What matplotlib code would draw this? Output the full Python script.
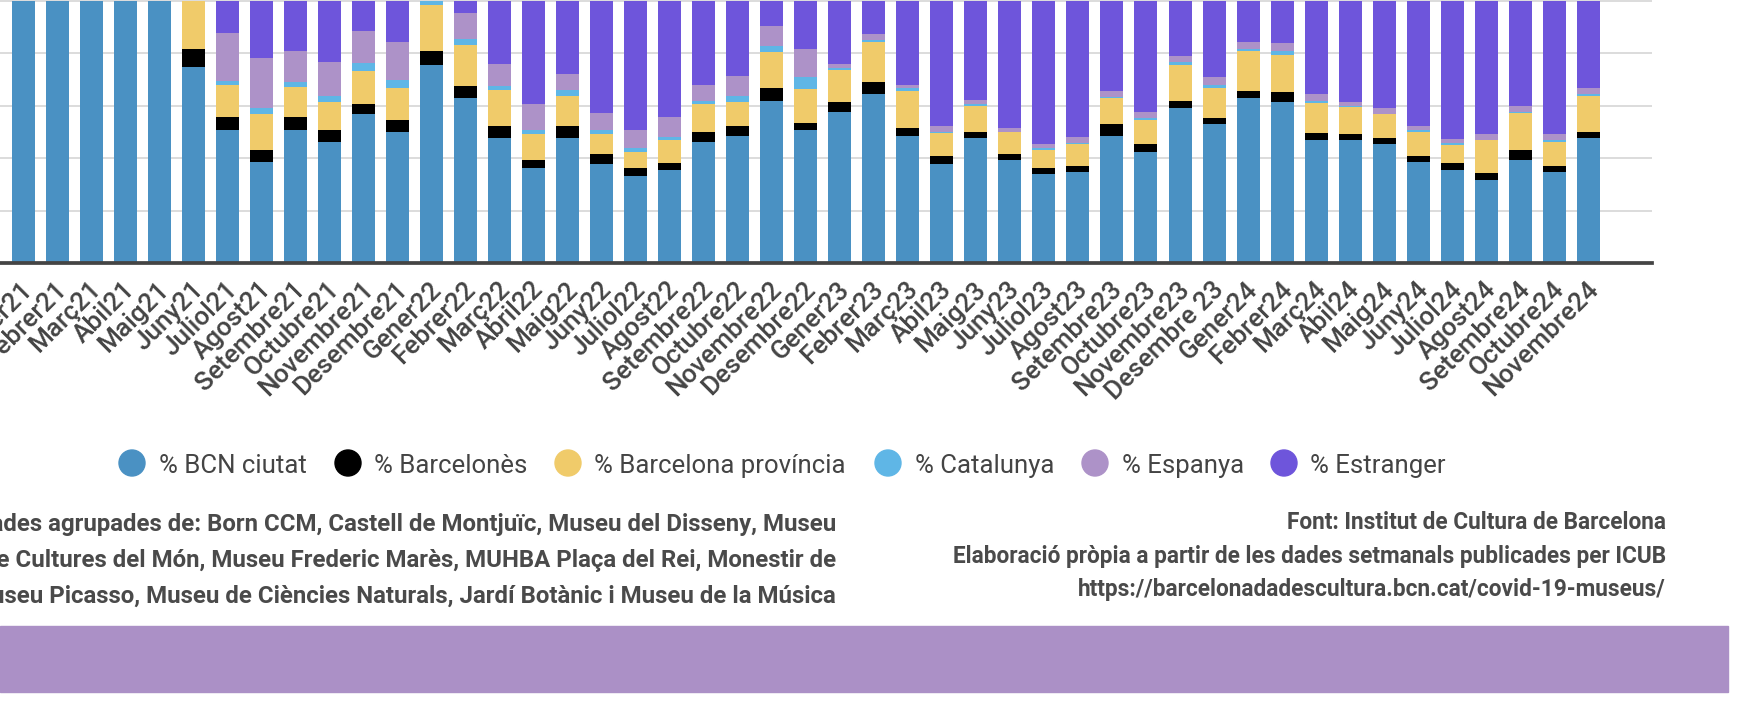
import matplotlib
matplotlib.use('Agg')
import matplotlib.pyplot as plt
from matplotlib.patches import Ellipse, Rectangle
import numpy as np

plt.rcParams['font.family'] = ['Roboto', 'DejaVu Sans']

months = ["Gener21", "Febrer21", "Març21", "Abil21", "Maig21", "Juny21", "Juliol21", "Agost21",
          "Setembre21", "Octubre21", "Novembre21", "Desembre21", "Gener22", "Febrer22", "Març22",
          "Abril22", "Maig22", "Juny22", "Juliol22", "Agost22", "Setembre22", "Octubre22",
          "Novembre22", "Desembre22", "Gener23", "Febrer23", "Març23", "Abil23", "Maig23", "Juny23",
          "Juliol23", "Agost23", "Setembre23", "Octubre23", "Novembre23", "Desembre 23", "Gener24",
          "Febrer24", "Març24", "Abil24", "Maig24", "Juny24", "Juliol24", "Agost24", "Setembre24",
          "Octubre24", "Novembre24"]

bcn_ciutat = [100, 100, 100, 100, 100, 74.9, 50.6, 38.5, 50.6, 46.1, 56.7, 49.9, 75.7, 62.8, 47.6,
              36.2, 47.6, 37.7, 33.2, 35.4, 46.1, 48.4, 62.0, 50.6, 57.5, 64.3, 48.4, 37.7, 47.6, 39.2,
              33.9, 34.7, 48.4, 42.3, 59.0, 52.9, 62.8, 61.3, 46.8, 46.8, 45.3, 38.5, 35.4, 31.6, 39.2,
              34.7, 47.6]
barcelones = [0, 0, 0, 0, 0, 6.8, 5.3, 4.6, 5.3, 4.6, 3.8, 4.6, 5.3, 4.6, 4.6,
              3.0, 4.6, 3.8, 3.0, 3.0, 3.8, 3.8, 4.6, 3.0, 3.8, 4.6, 3.0, 3.0, 2.3, 2.3,
              2.3, 2.3, 4.6, 3.0, 3.0, 2.3, 3.0, 3.8, 3.0, 2.3, 2.3, 2.3, 3.0, 3.0, 3.8,
              2.3, 2.3]
bcn_provincia = [0, 0, 0, 0, 0, 18.3, 12.2, 13.7, 11.4, 10.6, 12.9, 12.2, 17.5, 15.9, 13.7,
                 9.9, 11.4, 7.6, 6.1, 8.4, 10.6, 9.1, 13.7, 12.9, 12.2, 15.2, 14.4, 9.1, 9.9, 8.4,
                 6.8, 8.4, 9.9, 9.1, 13.7, 11.4, 15.2, 14.4, 11.4, 10.6, 9.1, 9.1, 6.8, 12.2, 14.4,
                 9.1, 13.7]
catalunya = [0, 0, 0, 0, 0, 0, 1.5, 2.3, 1.6, 2.3, 3.0, 3.0, 1.5, 2.3, 1.5,
             1.5, 2.3, 1.5, 1.5, 1.5, 1.5, 2.3, 2.3, 4.6, 0.8, 0.8, 0.8, 0.3, 0.8, 0.3,
             0.8, 0.3, 0.3, 0.8, 0.8, 1.5, 0.8, 1.5, 0.8, 0.3, 0.3, 0.8, 0.8, 0.3, 0.3,
             0.8, 0.8]
espanya = [0, 0, 0, 0, 0, 0, 18.2, 19.0, 12.0, 12.9, 12.2, 14.4, 0, 9.9, 8.4,
           9.9, 6.1, 6.8, 6.8, 7.6, 6.1, 7.6, 7.6, 10.6, 1.5, 2.3, 1.5, 2.3, 1.5, 1.5,
           1.5, 2.3, 2.3, 2.3, 2.3, 3.0, 2.3, 3.0, 2.3, 1.5, 2.3, 1.5, 1.5, 2.3, 2.3,
           2.3, 2.3]
estranger = [0, 0, 0, 0, 0, 0, 12.2, 21.9, 19.1, 23.5, 11.4, 15.9, 0, 4.5, 24.2,
             39.5, 28.0, 42.6, 49.4, 44.1, 31.9, 28.8, 9.8, 18.3, 24.2, 12.8, 31.9, 47.6, 37.9, 48.3,
             54.7, 52.0, 34.5, 42.5, 21.2, 28.9, 15.9, 16.0, 35.7, 38.5, 40.7, 47.8, 52.5, 50.6, 40.0,
             50.8, 33.3]

series_names = ["% BCN ciutat", "% Barcelonès", "% Barcelona província", "% Catalunya",
                "% Espanya", "% Estranger"]
series_values = [bcn_ciutat, barcelones, bcn_provincia, catalunya, espanya, estranger]
colors = ["#4a91c3", "#000000", "#f0cb6a", "#5fb6e6", "#ad92c8", "#6e55db"]

note_left = ["Dades agrupades de: Born CCM, Castell de Montjuïc, Museu del Disseny, Museu",
             "de Cultures del Món, Museu Frederic Marès, MUHBA Plaça del Rei, Monestir de",
             "Museu Picasso, Museu de Ciències Naturals, Jardí Botànic i Museu de la Música"]
note_right = ["Font: Institut de Cultura de Barcelona",
              "Elaboració pròpia a partir de les dades setmanals publicades per ICUB",
              "https://barcelonadadescultura.bcn.cat/covid-19-museus/"]

W, H = 1750, 721
fig = plt.figure(figsize=(W / 100, H / 100), dpi=100)

def fx(px):
    return px / W

def fy(py):
    return 1 - py / H

pitch = 34.03
first_c = 23.0
ax_left, ax_right = 0, 1652
ax_top, ax_bot = 0, 263.4
ax = fig.add_axes([fx(ax_left), fy(ax_bot), fx(ax_right - ax_left), (ax_bot - ax_top) / H])
ax.set_xlim((ax_left - first_c) / pitch, (ax_right - first_c) / pitch)
ax.set_ylim(0, 100 * 263.4 / 262.7)

x = np.arange(len(months))
bottom = np.zeros(len(months))
for vals, c, name in zip(series_values, colors, series_names):
    v = np.array(vals, dtype=float)
    ax.bar(x, v, bottom=bottom, width=23 / pitch, color=c, linewidth=0, zorder=2, label=name)
    bottom += v

for g in [20, 40, 60, 80, 100]:
    ax.axhline(g, color="#d9d9d9", lw=1.3, zorder=1)

for s in ['top', 'right', 'left']:
    ax.spines[s].set_visible(False)
ax.spines['bottom'].set_color('#444444')
ax.spines['bottom'].set_linewidth(2.7)
ax.spines['bottom'].set_zorder(5)
ax.set_yticks([])
ax.set_xticks(x + 0.18)
ax.set_xticklabels(months, rotation=45, ha='right', va='center', rotation_mode='anchor',
                   fontsize=18.8, color='#444444', fontweight='medium')
ax.tick_params(axis='x', length=0, pad=16)

# legend
leg_y = 463
circ_x = [132, 348, 568, 888, 1095, 1284]
text_x = [159, 374, 594, 915, 1122, 1310]
for cx, tx, c, name in zip(circ_x, text_x, colors, series_names):
    fig.add_artist(Ellipse((fx(cx), fy(leg_y)), 26 / W, 26 / H, color=c,
                           transform=fig.transFigure))
    fig.text(fx(tx), fy(leg_y), name, fontsize=18.5, color='#444444', ha='left',
             va='center_baseline')

# notes
for i, line in enumerate(note_left):
    fig.text(fx(836), fy(522 + 36 * i), line, fontsize=17.3, fontweight='bold',
             color='#4a4a4a', ha='right', va='center_baseline')
for i, line in enumerate(note_right):
    fig.text(fx(1666), fy(520 + 33.5 * i), line, fontsize=16.3, fontweight='bold',
             color='#4a4a4a', ha='right', va='center_baseline')

# bottom band
fig.add_artist(Rectangle((0, fy(692)), fx(1728), (692 - 626) / H, color='#ab90c6',
                         transform=fig.transFigure, zorder=0))

fig.savefig('out.png', dpi=100)
